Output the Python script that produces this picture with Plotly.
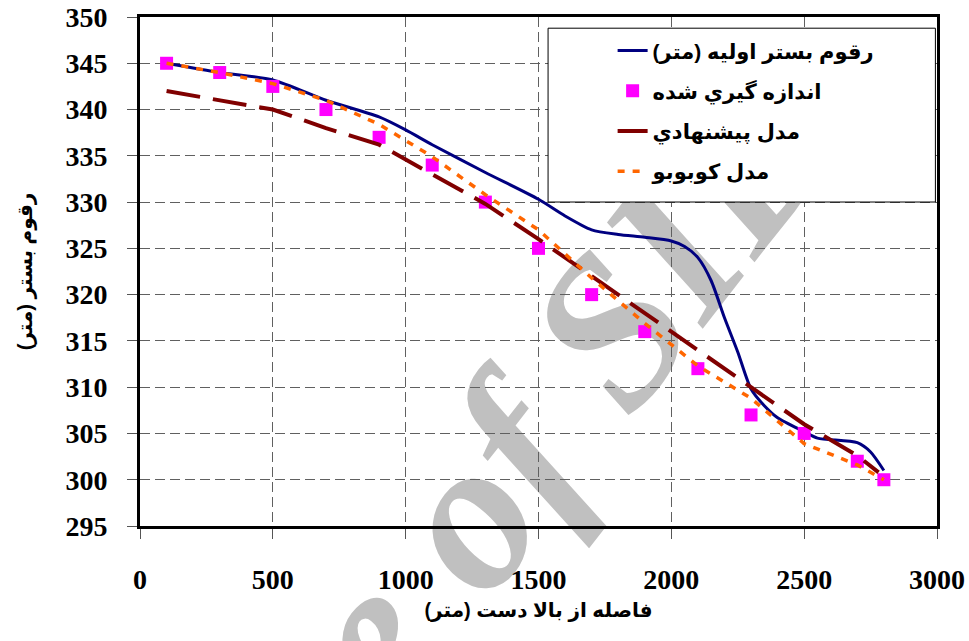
import plotly.graph_objects as go

# ---- data ----
initial_x = [100, 300, 500, 700, 900, 1000, 1100, 1300, 1500, 1600, 1700, 1800, 1900,
             2000, 2050, 2100, 2150, 2200, 2250, 2300, 2350, 2400, 2500, 2550, 2700, 2750, 2800]
initial_y = [345, 344, 343.2, 341, 339.2, 337.8, 336.2, 333.2, 330.3, 328.5, 327, 326.5, 326.2,
             325.8, 325.2, 324.0, 321.5, 317.5, 313.8, 309.8, 308.0, 306.7, 305.2, 304.5, 304, 303, 301]

measured_x = [100, 300, 500, 700, 900, 1100, 1300, 1500, 1700, 1900, 2100, 2300, 2500, 2700, 2800]
measured_y = [345, 344, 342.5, 340, 337, 334, 330, 325, 320, 316, 312, 307, 305, 302, 300]

proposed_x = [100, 300, 500, 700, 900, 1100, 1300, 1500, 1700, 1900, 2100, 2300, 2500, 2700, 2780]
proposed_y = [342, 341, 340, 338, 336.2, 333, 329.8, 326, 322, 318.1, 314, 310, 306, 302.6, 300.8]

kobobo_x = [100, 300, 500, 700, 900, 1100, 1300, 1500, 1700, 1900, 2100, 2300, 2500, 2700, 2800]
kobobo_y = [345, 344, 342.8, 341, 338.4, 334.9, 330.8, 327, 321.8, 316.9, 312.3, 308.8, 303.9, 301.6, 300]

series_names = ["رقوم بستر اوليه (متر)", "اندازه گيري شده", "مدل پيشنهادي", "مدل كوبوبو"]
x_title = "فاصله از بالا دست (متر)"
y_title = "رقوم بستر (متر)"
watermark = "Archive of SID"

x_ticks = [0, 500, 1000, 1500, 2000, 2500, 3000]
y_ticks = [295, 300, 305, 310, 315, 320, 325, 330, 335, 340, 345, 350]

SANS = "Liberation Sans, DejaVu Sans, Arial, sans-serif"
SERIF = "Liberation Serif, Times New Roman, serif"

fig = go.Figure()
fig.add_trace(go.Scatter(x=initial_x, y=initial_y, mode="lines", name=series_names[0],
                         legendgroup="a",
                         line=dict(color="#000080", width=3, shape="spline", smoothing=0.7)))
fig.add_trace(go.Scatter(x=measured_x, y=measured_y, mode="markers", name=series_names[1],
                         legendgroup="b",
                         marker=dict(symbol="square", size=13, color="#FF00FF")))
fig.add_trace(go.Scatter(x=proposed_x, y=proposed_y, mode="lines", name=series_names[2],
                         legendgroup="c",
                         line=dict(color="#800000", width=4, dash="34px,13px")))
fig.add_trace(go.Scatter(x=kobobo_x, y=kobobo_y, mode="lines", name=series_names[3],
                         legendgroup="d",
                         line=dict(color="#FF6600", width=3.5, dash="7px,8px")))

axis_common = dict(
    showline=True, linecolor="black", linewidth=3, mirror=True, automargin=False,
    showgrid=True, gridcolor="#606060", gridwidth=1, griddash="10px,5px",
    zeroline=False, ticks="outside", ticklen=10, tickcolor="#555", tickwidth=1,
    tickfont=dict(family=SERIF, size=28, color="black", weight="bold"),
)

fig.update_xaxes(range=[0, 3000], tickvals=x_ticks, ticklabelstandoff=16,
                 title=dict(text=x_title, font=dict(family=SANS, size=20, color="black", weight="bold"),
                            standoff=10),
                 **axis_common)
fig.update_yaxes(range=[295, 350], tickvals=y_ticks, ticklabelstandoff=14,
                 title=dict(text=y_title, font=dict(family=SANS, size=20, color="black", weight="bold"),
                            standoff=28),
                 **axis_common)

# watermark, under the grid and the data
fig.add_shape(type="rect", xref="paper", yref="paper", x0=0.271, x1=0.291, y0=-0.169, y1=-0.149,
              line=dict(width=0), fillcolor="rgba(0,0,0,0)", layer="below",
              label=dict(text=watermark, textposition="middle center", textangle=-52,
                         font=dict(family=SERIF, size=215, color="#c0c0c0",
                                   weight="bold", style="italic")))
# legend box
fig.add_shape(type="rect", xref="paper", yref="paper", x0=0.512, x1=0.998, y0=0.6365, y1=0.978,
              line=dict(color="black", width=1), fillcolor="white", layer="above")

fig.update_layout(
    width=969, height=641,
    margin=dict(l=140, r=32, t=17, b=115),
    paper_bgcolor="white", plot_bgcolor="rgba(0,0,0,0)",
    showlegend=True,
    legend=dict(x=0.593, y=0.974, xanchor="left", yanchor="top",
                bgcolor="rgba(0,0,0,0)", borderwidth=0,
                font=dict(family=SANS, size=21, color="black", weight="bold"),
                tracegroupgap=10),
)

fig.write_html("out.html")
